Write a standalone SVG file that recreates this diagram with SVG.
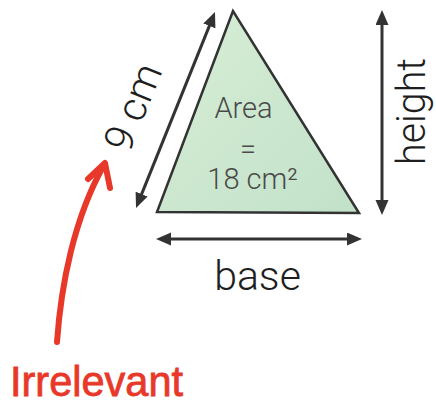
<svg xmlns="http://www.w3.org/2000/svg" width="436" height="409" viewBox="0 0 436 409">
<style>
.dim{stroke:#333;stroke-width:3;fill:none;marker-start:url(#ah);marker-end:url(#ah)}
.lbl{font-family:Roboto,"Liberation Sans",sans-serif;font-weight:300;font-size:41px;fill:#1e1e1e;text-anchor:middle}
.area{font-family:Roboto,"Liberation Sans",sans-serif;font-weight:300;font-size:29px;fill:#4a4a4a;text-anchor:middle}
.red{stroke:#e8382a;stroke-width:6;fill:none;stroke-linecap:round;stroke-linejoin:round}
</style>
<defs>
<marker id="ah" markerUnits="userSpaceOnUse" markerWidth="16" markerHeight="14" refX="10" refY="6.5" orient="auto-start-reverse">
<path d="M0,0 L15,6.5 L0,13 z" fill="#333"/>
</marker>
<linearGradient id="gf" x1="0" y1="0" x2="1" y2="1">
<stop offset="0" stop-color="#d8eed6"/>
<stop offset="1" stop-color="#c2e1c9"/>
</linearGradient>
</defs>
<g id="triangle">
<polygon points="233,11 157,212 359,213" fill="url(#gf)" stroke="#333" stroke-width="2.5" stroke-linejoin="miter"/>
<text class="area" x="243.5" y="118">Area</text>
<text class="area" x="248" y="159">=</text>
<text class="area" x="252.5" y="189">18 cm²</text>
</g>
<g id="connectors">
<line class="dim" x1="137.9" y1="203.4" x2="213.1" y2="16.6"/>
<line class="dim" x1="382" y1="15" x2="382" y2="210"/>
<line class="dim" x1="161" y1="239" x2="357" y2="239"/>
<path class="red" d="M57,342 C61,285 74,218 104,165"/>
<path class="red" d="M88,179 L105,163 L110,188"/>
</g>
<g id="label-side">
<text class="lbl" transform="translate(146,112.5) rotate(-68)">9 cm</text>
</g>
<g id="label-height">
<text class="lbl" transform="translate(425,111.5) rotate(-90)" textLength="107" lengthAdjust="spacingAndGlyphs">height</text>
</g>
<g id="label-base">
<text class="lbl" x="257.5" y="290">base</text>
</g>
<g id="label-irrelevant">
<text x="10" y="396" font-family="'Liberation Sans',sans-serif" font-size="42" fill="#e8382a" stroke="#e8382a" stroke-width="0.8" textLength="173" lengthAdjust="spacingAndGlyphs">Irrelevant</text>
</g>
</svg>
